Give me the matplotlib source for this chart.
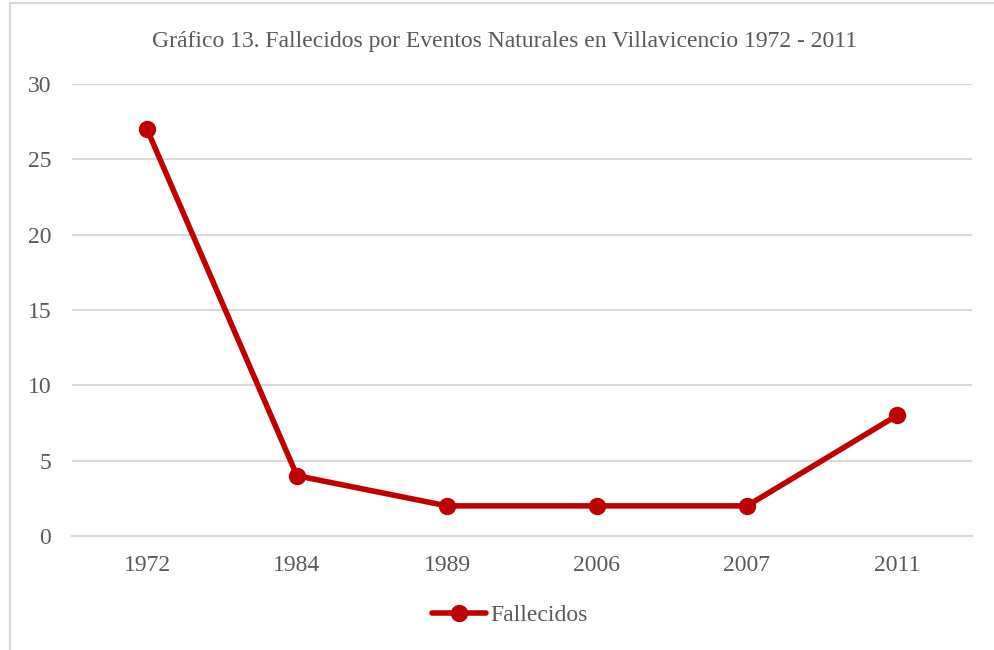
import matplotlib.pyplot as plt
from matplotlib.patches import Rectangle

years = ['1972', '1984', '1989', '2006', '2007', '2011']
fallecidos = [27, 4, 2, 2, 2, 8]
yticks = [0, 5, 10, 15, 20, 25, 30]

title = 'Gráfico 13. Fallecidos por Eventos Naturales en Villavicencio 1972 - 2011'
text_color = '#595959'
line_color = '#C00000'

plt.rcParams['font.family'] = ['Liberation Serif', 'DejaVu Serif']

W, H = 994, 650
fig = plt.figure(figsize=(W / 100, H / 100), dpi=100)
fig.patch.set_facecolor('white')

# chart border (cropped on right and bottom)
fig.patches.append(Rectangle((10 / W, -0.1), 1.2, 1.1 - 3 / H, transform=fig.transFigure,
                             fill=False, edgecolor='#D9D9D9', lw=1.5))

ax = fig.add_axes([72 / W, 1 - 536 / H, 900 / W, (536 - 84) / H])
x = range(len(years))
ax.plot(x, fallecidos, color=line_color, lw=4, marker='o', markersize=11.5,
        solid_capstyle='round', label='Fallecidos')

ax.set_xlim(-0.5, len(years) - 0.5)
ax.set_ylim(0, 30)
ax.set_yticks(yticks)
ax.set_xticks(list(x))
ax.set_xticklabels(years)
ax.grid(axis='y', color='#D9D9D9', lw=1.5)
ax.set_axisbelow(True)
for s in ['top', 'right', 'left']:
    ax.spines[s].set_visible(False)
ax.spines['bottom'].set_color('#D9D9D9')
ax.spines['bottom'].set_linewidth(1.5)
ax.tick_params(length=0, labelsize=17, colors=text_color)
ax.tick_params(axis='y', pad=15)
ax.tick_params(axis='x', pad=14)

fig.text(505 / W, 1 - 41 / H, title, ha='center', va='center', fontsize=17, color=text_color)

leg = fig.legend(loc='center', bbox_to_anchor=(510 / W, 1 - 615 / H), frameon=False,
                 fontsize=17, handlelength=2.3, handletextpad=0.17, labelcolor=text_color)

fig.savefig('out.png', dpi=100)
